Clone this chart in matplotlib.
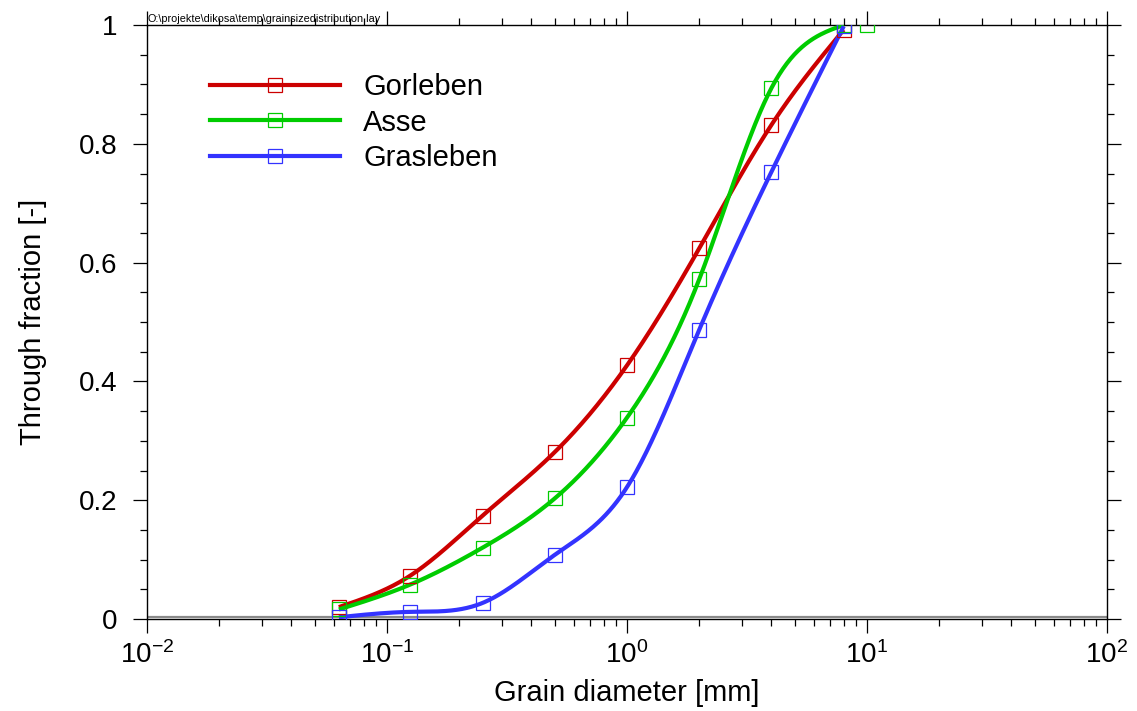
import numpy as np
import matplotlib
matplotlib.use("Agg")
import matplotlib.pyplot as plt
from matplotlib.ticker import LogLocator, NullFormatter, FixedLocator

plt.rcParams["font.family"] = ["Liberation Sans", "DejaVu Sans"]
plt.rcParams["mathtext.fontset"] = "custom"
plt.rcParams["mathtext.rm"] = "Liberation Sans"
plt.rcParams["mathtext.it"] = "Liberation Sans"

# Sieve sizes [mm] and passing fractions
sieve_mm = [0.063, 0.125, 0.25, 0.5, 1.0, 2.0, 4.0, 8.0]
gorleben = [0.020, 0.073, 0.174, 0.281, 0.427, 0.624, 0.832, 0.992]
asse_mm = [0.063, 0.125, 0.25, 0.5, 1.0, 2.0, 4.0, 8.0, 10.0]
asse = [0.016, 0.058, 0.120, 0.203, 0.339, 0.572, 0.894, 1.0, 1.0]
grasleben = [0.003, 0.012, 0.027, 0.108, 0.222, 0.487, 0.753, 0.998]

series_names = ["Gorleben", "Asse", "Grasleben"]
series_colors = ["#cc0000", "#00cc00", "#3333ff"]

ytick_values = [0, 0.2, 0.4, 0.6, 0.8, 1.0]
ytick_labels = ["0", "0.2", "0.4", "0.6", "0.8", "1"]


def natural_spline(x, y, xs):
    """Natural cubic spline through (x, y), evaluated at xs."""
    x = np.asarray(x, float)
    y = np.asarray(y, float)
    n = len(x)
    h = np.diff(x)
    A = np.zeros((n, n))
    r = np.zeros(n)
    A[0, 0] = A[-1, -1] = 1.0
    for i in range(1, n - 1):
        A[i, i - 1] = h[i - 1]
        A[i, i] = 2 * (h[i - 1] + h[i])
        A[i, i + 1] = h[i]
        r[i] = 6 * ((y[i + 1] - y[i]) / h[i] - (y[i] - y[i - 1]) / h[i - 1])
    m = np.linalg.solve(A, r)
    idx = np.clip(np.searchsorted(x, xs) - 1, 0, n - 2)
    x0, x1 = x[idx], x[idx + 1]
    hh = x1 - x0
    t0, t1 = x1 - xs, xs - x0
    return (m[idx] * t0 ** 3 / (6 * hh) + m[idx + 1] * t1 ** 3 / (6 * hh)
            + (y[idx] / hh - m[idx] * hh / 6) * t0
            + (y[idx + 1] / hh - m[idx + 1] * hh / 6) * t1)


def smooth_curve(sizes, frac):
    lx = np.log10(sizes)
    xs = np.linspace(lx[0], lx[-1], 400)
    return 10 ** xs, natural_spline(lx, frac, xs)


fig = plt.figure(figsize=(11.37, 7.11), dpi=100)
ax = fig.add_axes([147 / 1137, 1 - 619 / 711, 960 / 1137, 594 / 711])

ax.axhline(0.0035, color="#8a8a8a", lw=1.6, zorder=1)

datasets = [
    (sieve_mm, gorleben, sieve_mm, gorleben),
    (asse_mm[:8], asse[:8], asse_mm, asse),
    (sieve_mm, grasleben, sieve_mm, grasleben),
]
for (cx, cy, mx, my), name, col in zip(datasets, series_names, series_colors):
    xs, ys = smooth_curve(cx, cy)
    ax.plot(xs, ys, color=col, lw=3.0, zorder=3, solid_capstyle="butt")
    ax.plot(mx, my, ls="none", marker="s", ms=9.5, mfc="none", mec=col,
            mew=0.9, zorder=4)
    # legend proxy
    ax.plot([], [], color=col, lw=3.0, marker="s", ms=9.5, mfc="none",
            mec=col, mew=0.9, label=name)

ax.set_xscale("log")
ax.set_xlim(0.01, 100)
ax.set_ylim(0, 1)

ax.xaxis.set_major_locator(LogLocator(base=10, numticks=10))
ax.xaxis.set_minor_locator(LogLocator(base=10, subs=np.arange(2, 10), numticks=50))
ax.xaxis.set_minor_formatter(NullFormatter())
ax.set_yticks(ytick_values)
ax.set_yticklabels(ytick_labels)
ax.yaxis.set_minor_locator(FixedLocator(np.arange(0, 1.0001, 0.05)))

for sp in ax.spines.values():
    sp.set_linewidth(1.0)
    sp.set_color("black")

ax.tick_params(axis="both", which="major", direction="out", length=10,
               width=0.9, labelsize=20, top=True, right=True)
ax.tick_params(axis="x", which="major", pad=6)
ax.tick_params(axis="y", which="major", pad=11)
ax.tick_params(axis="both", which="minor", direction="out", length=5,
               width=0.9, top=True, right=True)

ax.set_xlabel("Grain diameter [mm]", fontsize=21)
ax.set_ylabel("Through fraction [-]", fontsize=21)
ax.xaxis.set_label_coords(0.5, -(679 - 619) / 594)
ax.yaxis.set_label_coords(-(147 - 47) / 960, 0.5)

leg = ax.legend(loc="upper left", bbox_to_anchor=(210 / 1137, 1 - 73 / 711),
                bbox_transform=fig.transFigure, frameon=False, fontsize=21,
                handlelength=4.46, handletextpad=0.79, labelspacing=0.26,
                borderpad=0, borderaxespad=0, numpoints=1)

fig.text(147 / 1137, 1 - 22 / 711,
         "O:\\projekte\\dikosa\\temp\\grainsizedistribution.lay",
         fontsize=7.8, va="baseline", ha="left")

fig.savefig("out.png", dpi=100)
